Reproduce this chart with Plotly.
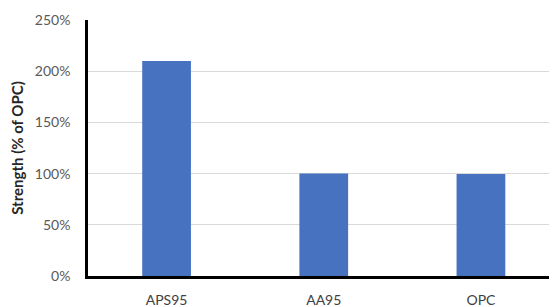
import plotly.graph_objects as go

categories = ["APS95", "AA95", "OPC"]
strength_pct = [210, 100, 99.5]
y_ticks = [0, 50, 100, 150, 200, 250]
y_tick_labels = [f"{v}%" for v in y_ticks]

fig = go.Figure(go.Bar(
    x=categories, y=strength_pct,
    marker=dict(color="#4672BF", line=dict(width=0)),
))

# page body has an 8px margin; figure sized so it fits the 557x307 window
fig.update_layout(
    width=549, height=299,
    margin=dict(l=80, r=0, t=12, b=31),
    paper_bgcolor="white", plot_bgcolor="white",
    bargap=0.69,
    showlegend=False,
    font=dict(family="Lato, Liberation Sans, sans-serif", color="#595959", size=14),
)
fig.update_xaxes(
    range=[-0.5, 2.484],
    showline=True, linecolor="black", linewidth=2.5,
    showgrid=False, ticks="", ticklabelstandoff=9,
    tickfont=dict(size=14, color="#404040"),
)
fig.update_yaxes(
    range=[0, 250], tickmode="array", tickvals=y_ticks, ticktext=y_tick_labels,
    showline=True, linecolor="black", linewidth=2.5,
    showgrid=True, gridcolor="#d9d9d9", gridwidth=1,
    zeroline=False, ticks="", ticklen=0, ticklabelstandoff=12,
    tickfont=dict(size=14, color="#595959"),
    title=dict(text="<b>Strength (% of OPC)</b>", font=dict(size=15, color="#262626"), standoff=10),
)

fig.write_html("out.html")
